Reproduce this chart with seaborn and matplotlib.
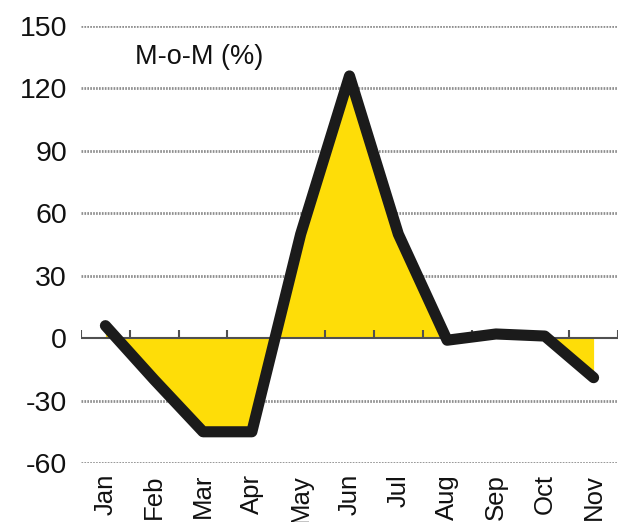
import matplotlib
matplotlib.use("Agg")
import matplotlib.pyplot as plt
import seaborn as sns
import pandas as pd
import numpy as np

months = ["Jan", "Feb", "Mar", "Apr", "May", "Jun", "Jul", "Aug", "Sep", "Oct", "Nov"]
mom_pct = [6, -20, -45, -45, 50, 126, 50, -1, 2, 1, -19]
y_ticks = [-60, -30, 0, 30, 60, 90, 120, 150]
series_label = "M-o-M (%)"

sns.set_theme(style="white")
plt.rcParams["font.family"] = ["Liberation Sans", "DejaVu Sans"]

df = pd.DataFrame({"idx": np.arange(len(months)), "month": months, "value": mom_pct})

fig = plt.figure(figsize=(6.27, 5.22), dpi=100)
ax = fig.add_axes([81 / 627, 1 - 463 / 522, (618 - 81) / 627, (463 - 26) / 522])

yellow = "#FEDD08"
ink = "#1b1b1b"

# dotted horizontal grid
for v in y_ticks:
    if v != 0:
        ax.axhline(v, color="#8e8e8e", lw=2.0, ls=(0, (0.6, 0.45)), zorder=1)

# yellow area between the series and zero
ax.fill_between(df["idx"], df["value"], 0, color=yellow, lw=0, zorder=2)

# zero baseline with small upward ticks at month boundaries
ax.axhline(0, color="#505050", lw=1.5, zorder=3)
bounds = np.arange(len(months) + 1) - 0.5
ax.vlines(bounds, 0, 4, color="#505050", lw=1.5, zorder=3)

sns.lineplot(data=df, x="idx", y="value", ax=ax, color=ink, lw=8, zorder=4,
             solid_capstyle="round", solid_joinstyle="round", clip_on=False)

ax.text(0.6, 135, series_label, fontsize=19.5, va="center", ha="left", color="#111111")

ax.set_xlim(-0.5, len(months) - 0.5)
ax.set_ylim(-60, 150)
ax.set_yticks(y_ticks)
ax.set_yticklabels([str(v) for v in y_ticks], fontsize=20.5, color="#111111")
ax.set_xticks(df["idx"])
ax.set_xticklabels(months, rotation=90, fontsize=18.5, color="#111111", va="top", ha="center")
ax.tick_params(axis="y", length=0, pad=10)
ax.tick_params(axis="x", length=0, pad=8)
ax.set_xlabel("")
ax.set_ylabel("")
for s in ax.spines.values():
    s.set_visible(False)
ax.grid(False)

fig.savefig("out.png", dpi=100)
